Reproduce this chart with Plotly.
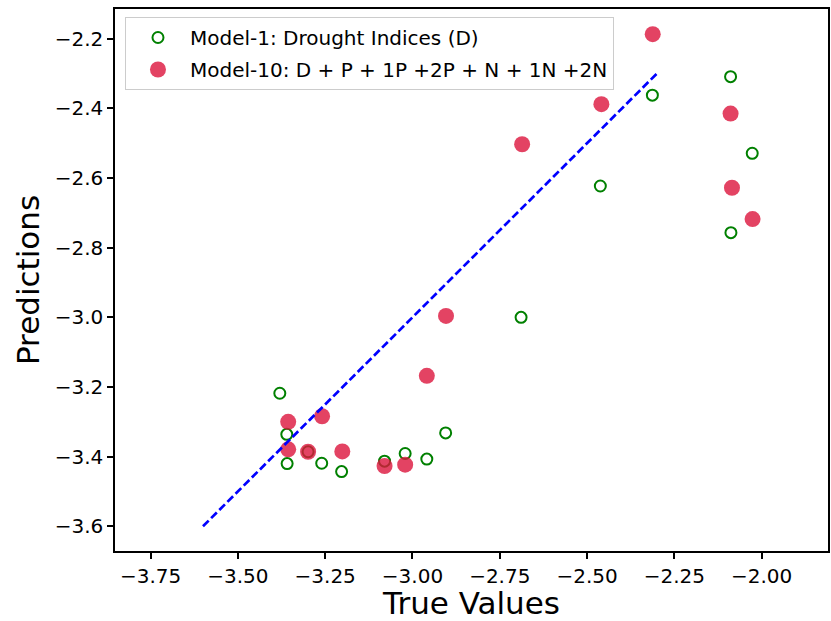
import plotly.graph_objects as go

# ---- data ----
true_m1 = [-3.380, -3.360, -3.359, -3.299, -3.260, -3.203, -3.080, -3.021, -2.959,
           -2.905, -2.689, -2.462, -2.313, -2.089, -2.088, -2.027]
pred_m1 = [-3.218, -3.336, -3.420, -3.386, -3.419, -3.443, -3.413, -3.391, -3.407,
           -3.332, -3.000, -2.623, -2.362, -2.309, -2.757, -2.529]

true_m10 = [-3.356, -3.356, -3.299, -3.259, -3.201, -3.080, -3.021, -2.959, -2.904,
            -2.686, -2.459, -2.312, -2.089, -2.085, -2.026]
pred_m10 = [-3.300, -3.379, -3.386, -3.284, -3.385, -3.427, -3.423, -3.168, -2.996,
            -2.503, -2.388, -2.187, -2.415, -2.628, -2.718]

line_xy = [-3.6, -2.3]

x_ticks = [-3.75, -3.50, -3.25, -3.00, -2.75, -2.50, -2.25, -2.00]
y_ticks = [-3.6, -3.4, -3.2, -3.0, -2.8, -2.6, -2.4, -2.2]

name_m1 = "Model-1: Drought Indices (D)"
name_m10 = "Model-10: D + P + 1P +2P + N + 1N +2N"

FONT = "DejaVu Sans"

fig = go.Figure()
fig.add_trace(go.Scatter(
    x=true_m1, y=pred_m1, mode="markers", name=name_m1, legendgroup="m1",
    marker=dict(symbol="circle-open", size=11, color="green", line=dict(width=2, color="green")),
))
fig.add_trace(go.Scatter(
    x=true_m10, y=pred_m10, mode="markers", name=name_m10, legendgroup="m10",
    marker=dict(symbol="circle", size=16, color="rgba(220,20,60,0.8)", line=dict(width=0)),
))
fig.add_trace(go.Scatter(
    x=line_xy, y=line_xy, mode="lines", showlegend=False,
    line=dict(color="blue", width=2.7, dash="8px,3.5px"),
))

axis_common = dict(
    showgrid=False, zeroline=False, showline=True, mirror=True,
    linecolor="black", linewidth=1.5, ticks="outside", ticklen=6, tickwidth=1.5,
    tickcolor="black", tickfont=dict(family=FONT, size=20, color="black"),
)

fig.update_layout(
    width=831, height=621,
    margin=dict(l=115, r=3, t=9, b=70),
    paper_bgcolor="white", plot_bgcolor="white",
    font=dict(family=FONT, color="black"),
    xaxis=dict(**axis_common, range=[-3.852, -1.810], tickvals=x_ticks,
               ticktext=[f"{v:.2f}".replace("-", "\u2212") for v in x_ticks],
               title=dict(text="True Values", font=dict(family=FONT, size=31), standoff=10),
               automargin=False),
    yaxis=dict(**axis_common, range=[-3.671, -2.1147], tickvals=y_ticks,
               ticktext=[f"{v:.1f}".replace("-", "\u2212") for v in y_ticks],
               title=dict(text="Predictions", font=dict(family=FONT, size=31), standoff=6),
               automargin=False),
    legend=dict(
        x=0.014, y=0.9852, xanchor="left", yanchor="top",
        bgcolor="rgba(255,255,255,0.8)", bordercolor="#cccccc", borderwidth=1,
        font=dict(family=FONT, size=20, color="black"),
        itemwidth=54, traceorder="grouped", tracegroupgap=3,
    ),
)

fig.write_html("out.html")
